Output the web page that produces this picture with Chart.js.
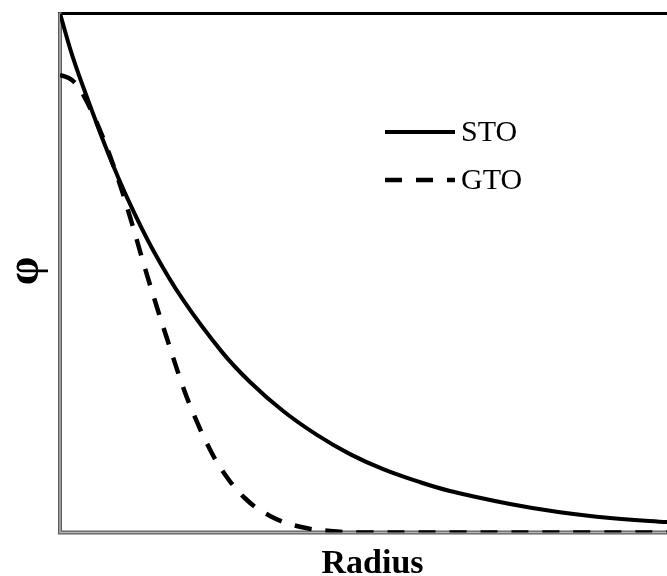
<!DOCTYPE html>
<html>
<head>
<meta charset="utf-8">
<script src="https://cdn.jsdelivr.net/npm/chart.js@4.4.1/dist/chart.umd.min.js"></script>
<style>
  html, body { margin: 0; padding: 0; background: #fff; overflow: hidden; }
  #wrap { width: 667px; height: 576px; overflow: hidden; }
</style>
</head>
<body>
<div id="wrap"><canvas id="orbitals" width="688" height="576"></canvas></div>
<script>
// Slater- and Gaussian-type orbital profiles (arbitrary units)
const stoRadius = [0, 0.21, 0.48, 0.75, 1.09, 1.49, 1.97, 2.59, 3.04, 3.57, 4.11, 4.64, 5.17, 5.71, 6.24, 7.2, 8.0, 8.8, 9.71, 10];
const stoPhi    = [1.0, 0.914, 0.823, 0.737, 0.641, 0.544, 0.448, 0.348, 0.290, 0.234, 0.188, 0.151, 0.122, 0.099, 0.080, 0.055, 0.039, 0.028, 0.020, 0.018];

const gtoRadius = [0, 0.19, 0.35, 0.64, 0.93, 1.15, 1.36, 1.58, 1.73, 1.97, 2.16, 2.37, 2.61, 2.96, 3.36, 3.84, 4.32, 4.8, 10];
const gtoPhi    = [0.882, 0.872, 0.848, 0.775, 0.681, 0.596, 0.509, 0.423, 0.367, 0.280, 0.222, 0.167, 0.117, 0.066, 0.032, 0.011, 0.003, 0, 0];

const seriesLabels = ['STO', 'GTO'];
const xTitle = 'Radius';
const yTitle = 'φ';

const SERIF = "'Liberation Serif', 'Times New Roman', serif";

const toPoints = (xs, ys) => xs.map((x, i) => ({ x: x, y: ys[i] }));

// Axes frame, titles and the inline legend
const framePlugin = {
  id: 'frame',
  beforeDatasetsDraw(chart) {
    const { ctx, chartArea: a } = chart;
    ctx.save();
    // black top edge
    ctx.strokeStyle = '#000';
    ctx.lineWidth = 3;
    ctx.beginPath();
    ctx.moveTo(a.left - 2, a.top);
    ctx.lineTo(chart.width, a.top);
    ctx.stroke();
    // grey double rule on left and bottom
    [[4, '#5c5c5c'], [1.5, '#b4b4b4']].forEach(([w, c]) => {
      ctx.lineWidth = w;
      ctx.strokeStyle = c;
      ctx.beginPath();
      ctx.moveTo(a.left, a.top - 1);
      ctx.lineTo(a.left, a.bottom);
      ctx.lineTo(chart.width, a.bottom);
      ctx.stroke();
    });
    ctx.restore();
  },
  afterDraw(chart) {
    const { ctx, chartArea: a } = chart;
    ctx.save();
    ctx.fillStyle = '#000';

    // axis titles
    ctx.font = `bold 34px ${SERIF}`;
    ctx.textAlign = 'center';
    ctx.textBaseline = 'alphabetic';
    ctx.fillText(xTitle, (a.left + a.right) / 2, 573);

    ctx.translate(26, (a.top + a.bottom) / 2 - 2);
    ctx.rotate(-Math.PI / 2);
    ctx.font = `bold 46px ${SERIF}`;
    ctx.textBaseline = 'middle';
    ctx.fillText(yTitle, 0, 0);
    ctx.setTransform(1, 0, 0, 1, 0, 0);

    // legend
    const rows = [132, 180];
    chart.data.datasets.forEach((ds, i) => {
      const y = rows[i];
      ctx.save();
      ctx.beginPath();
      ctx.rect(383, y - 5, 72, 10);
      ctx.clip();
      ctx.strokeStyle = ds.borderColor;
      ctx.lineWidth = ds.borderWidth;
      ctx.setLineDash(ds.borderDash || []);
      ctx.beginPath();
      ctx.moveTo(385, y);
      ctx.lineTo(470, y);
      ctx.stroke();
      ctx.restore();

      ctx.font = `30px ${SERIF}`;
      ctx.textAlign = 'left';
      ctx.textBaseline = 'middle';
      ctx.fillText(ds.label, 461, y + 1);
    });
    ctx.restore();
  }
};

new Chart(document.getElementById('orbitals'), {
  type: 'line',
  data: {
    datasets: [
      {
        label: seriesLabels[0],
        data: toPoints(stoRadius, stoPhi),
        borderColor: '#000',
        borderWidth: 4,
        pointRadius: 0,
        tension: 0.4
      },
      {
        label: seriesLabels[1],
        data: toPoints(gtoRadius, gtoPhi),
        borderColor: '#000',
        borderWidth: 4.5,
        borderDash: [17, 14],
        pointRadius: 0,
        tension: 0.4
      }
    ]
  },
  options: {
    responsive: false,
    animation: false,
    layout: { padding: { left: 60, right: 3, top: 13.5, bottom: 43.5 } },
    scales: {
      x: { type: 'linear', min: 0, max: 10, display: false },
      y: { min: 0, max: 1, display: false }
    },
    plugins: {
      legend: { display: false },
      tooltip: { enabled: false }
    }
  },
  plugins: [framePlugin]
});
</script>
</body>
</html>
